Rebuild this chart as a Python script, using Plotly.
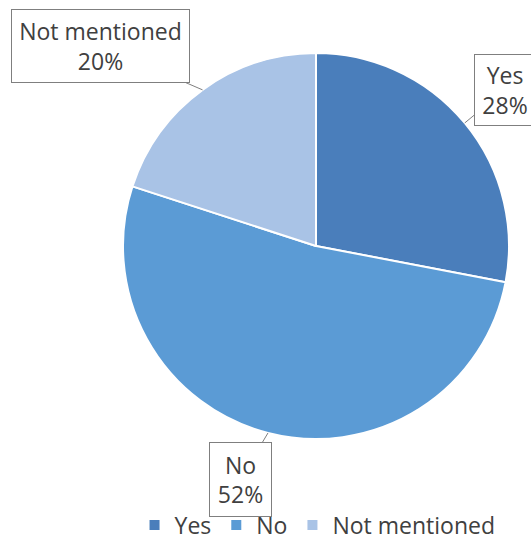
import math
import plotly.graph_objects as go

labels = ["Yes", "No", "Not mentioned"]
values = [28, 52, 20]
colors = ["#4a7ebb", "#5b9bd5", "#a9c3e6"]

W, H = 531, 540
cx, cy, R = 316, 246, 193  # pie centre / radius in px (layout)

dom_x = [(cx - R) / W, (cx + R) / W]
dom_y = [1 - (cy + R) / H, 1 - (cy - R) / H]

fig = go.Figure(go.Pie(
    labels=labels, values=values, sort=False, direction="clockwise", rotation=0,
    marker=dict(colors=colors, line=dict(color="white", width=2)),
    textinfo="none", hoverinfo="label+percent",
    domain=dict(x=dom_x, y=dom_y),
))

# callout box offsets (px) relative to the slice mid-point on the rim, and box sizes
offsets = {"Yes": (40, -33, 60, 70), "No": (-28, 47, 61, 73), "Not mentioned": (-102, -44, 177, 72)}

total = sum(values)
cum = 0
anns = []
for lab, v in zip(labels, values):
    mid = (cum + v / 2) / total * 2 * math.pi
    cum += v
    px = cx + R * math.sin(mid)
    py = cy - R * math.cos(mid)
    ax, ay, bw, bh = offsets[lab]
    pct = round(v / total * 100)
    anns.append(dict(
        x=px / W, y=1 - py / H, xref="paper", yref="paper",
        text=f"{lab}<br>{pct}%", showarrow=True, arrowhead=0, arrowwidth=1,
        arrowcolor="#7f7f7f", ax=ax, ay=ay, width=bw, height=bh,
        bordercolor="#7f7f7f", borderwidth=1, borderpad=0, bgcolor="white",
        font=dict(family="Open Sans", size=23, color="#404040"),
    ))

fig.update_layout(
    width=W, height=H, margin=dict(l=0, r=0, t=0, b=0, autoexpand=False),
    paper_bgcolor="white", plot_bgcolor="white",
    annotations=anns,
    showlegend=True,
    legend=dict(orientation="h", x=0.598, xanchor="center", y=-0.012, yanchor="bottom",
                bgcolor="rgba(0,0,0,0)",
                font=dict(family="Open Sans", size=23, color="#404040"),
                itemwidth=30, traceorder="normal", tracegroupgap=0),
)

fig.write_html("out.html", config={"displayModeBar": False},
               post_script="document.body.style.margin='0';document.body.style.overflow='hidden';")
